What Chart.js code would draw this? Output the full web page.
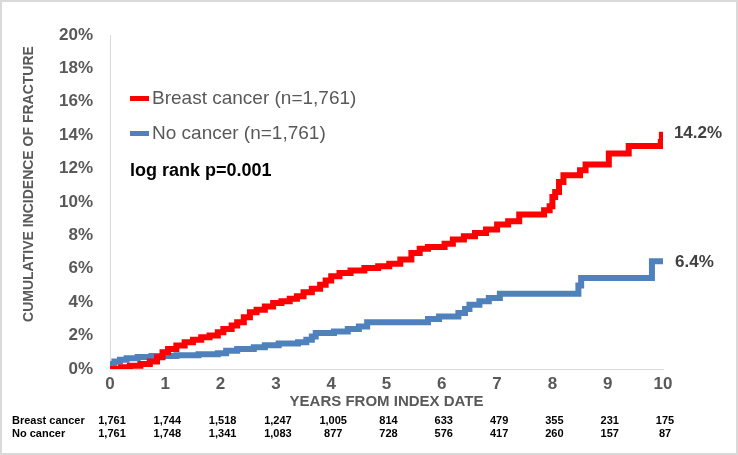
<!DOCTYPE html>
<html>
<head>
<meta charset="utf-8">
<script src="https://cdn.jsdelivr.net/npm/chart.js@4"></script>
<style>
  html, body { margin: 0; padding: 0; background: #fff; }
  #wrap { width: 738px; height: 455px; position: relative; }
</style>
</head>
<body>
<div id="wrap"><canvas id="kmChart"></canvas></div>
<script>
// Kurva kumulatif fraktur (dalam %)
const breastYears = [0, 0.2, 0.36, 0.55, 0.72, 0.85, 0.95, 1.05, 1.2, 1.35, 1.5, 1.65, 1.8, 1.95, 2.05, 2.2, 2.3, 2.42, 2.53, 2.65, 2.8, 2.95, 3.1, 3.25, 3.38, 3.5, 3.65, 3.8, 3.9, 4.0, 4.15, 4.35, 4.6, 4.85, 5.05, 5.25, 5.45, 5.6, 5.75, 6.05, 6.2, 6.4, 6.6, 6.8, 7.0, 7.2, 7.4, 7.85, 7.95, 8.0, 8.05, 8.12, 8.2, 8.5, 8.6, 9.02, 9.38, 9.96, 9.98];
const breastRisk = [0, 0.1, 0.2, 0.3, 0.45, 0.7, 1.0, 1.2, 1.4, 1.6, 1.75, 1.9, 2.0, 2.2, 2.4, 2.6, 2.8, 3.1, 3.4, 3.55, 3.75, 3.95, 4.05, 4.2, 4.35, 4.6, 4.8, 5.05, 5.3, 5.55, 5.75, 5.9, 6.05, 6.15, 6.3, 6.55, 6.95, 7.2, 7.3, 7.5, 7.75, 7.95, 8.15, 8.35, 8.65, 8.85, 9.25, 9.5, 9.75, 10.3, 10.6, 11.2, 11.6, 11.9, 12.25, 12.9, 13.35, 13.6, 14.2];

const noYears = [0, 0.03, 0.08, 0.18, 0.3, 0.5, 0.75, 1.2, 1.6, 1.95, 2.1, 2.3, 2.6, 2.8, 3.05, 3.4, 3.55, 3.65, 3.72, 4.05, 4.3, 4.5, 4.65, 5.75, 5.95, 6.3, 6.42, 6.5, 6.68, 6.85, 7.05, 8.47, 8.52, 9.8, 10.0];
const noRisk = [0.1, 0.3, 0.45, 0.55, 0.65, 0.72, 0.78, 0.83, 0.88, 0.95, 1.1, 1.2, 1.3, 1.42, 1.53, 1.6, 1.75, 1.95, 2.15, 2.25, 2.4, 2.55, 2.8, 3.0, 3.15, 3.35, 3.6, 3.85, 4.05, 4.25, 4.5, 5.0, 5.45, 6.45, 6.45];

const seriesLabels = ['Breast cancer (n=1,761)', 'No cancer (n=1,761)'];
const endLabels = ['14.2%', '6.4%'];
const riskRowNames = ['Breast cancer', 'No cancer'];
const atRiskBreast = ['1,761', '1,744', '1,518', '1,247', '1,005', '814', '633', '479', '355', '231', '175'];
const atRiskNone = ['1,761', '1,748', '1,341', '1,083', '877', '728', '576', '417', '260', '157', '87'];
const pValueText = 'log rank p=0.001';
const yTitle = 'CUMULATIVE INCIDENCE OF FRACTURE';

const FONT = "'Liberation Sans', Arial, sans-serif";
const GREY = '#595959';

const toPoints = (xs, ys) => xs.map((x, i) => ({ x: x, y: ys[i] }));

// Judul sumbu Y, legenda, label ujung kurva, tabel jumlah berisiko, bingkai
const extras = {
    id: 'extras',
    afterDatasetsDraw(chart) {
        const ctx = chart.ctx;
        const xs = chart.scales.x;
        const ys = chart.scales.y;
        ctx.save();

        // judul sumbu Y (sedikit di atas tengah, seperti aslinya)
        ctx.save();
        ctx.translate(29, 184);
        ctx.rotate(-Math.PI / 2);
        ctx.fillStyle = GREY;
        ctx.font = 'bold 14px ' + FONT;
        ctx.textAlign = 'center';
        ctx.textBaseline = 'middle';
        ctx.fillText(yTitle, 0, 0);
        ctx.restore();

        // legenda di dalam area grafik
        const legendY = [98, 133];
        chart.data.datasets.forEach((ds, i) => {
            ctx.fillStyle = ds.borderColor;
            ctx.fillRect(130, legendY[i] - 2, 19, 5);
            ctx.fillStyle = GREY;
            ctx.font = '19px ' + FONT;
            ctx.textAlign = 'left';
            ctx.textBaseline = 'middle';
            ctx.fillText(ds.label, 152, legendY[i] + 1);
        });
        ctx.fillStyle = '#000';
        ctx.font = 'bold 18px ' + FONT;
        ctx.fillText(pValueText, 130, 171);

        // label nilai akhir
        ctx.fillStyle = '#404040';
        ctx.font = 'bold 17px ' + FONT;
        chart.data.datasets.forEach((ds, i) => {
            const last = ds.data[ds.data.length - 1];
            ctx.fillText(endLabels[i], xs.getPixelForValue(last.x) + 12, ys.getPixelForValue(last.y) + 1);
        });

        // tabel jumlah berisiko
        ctx.fillStyle = '#000';
        ctx.font = 'bold 11px ' + FONT;
        const rows = [atRiskBreast, atRiskNone];
        const rowY = [421, 434];
        rows.forEach((row, r) => {
            ctx.textAlign = 'left';
            ctx.fillText(riskRowNames[r], 12, rowY[r]);
            ctx.textAlign = 'center';
            row.forEach((v, i) => ctx.fillText(v, xs.getPixelForValue(i) + 2, rowY[r]));
        });

        // bingkai luar
        ctx.strokeStyle = '#d9d9d9';
        ctx.lineWidth = 2;
        ctx.strokeRect(1, 1, chart.width - 2, chart.height - 2);
        ctx.restore();
    }
};

document.addEventListener('DOMContentLoaded', function () {
    const el = document.getElementById('kmChart');
    new Chart(el, {
        type: 'line',
        data: {
            datasets: [
                {
                    label: seriesLabels[0],
                    data: toPoints(breastYears, breastRisk),
                    borderColor: '#ff0000',
                    backgroundColor: '#ff0000',
                    borderWidth: 6,
                    stepped: true,
                    pointRadius: 0
                },
                {
                    label: seriesLabels[1],
                    data: toPoints(noYears, noRisk),
                    borderColor: '#4f81bd',
                    backgroundColor: '#4f81bd',
                    borderWidth: 6,
                    stepped: true,
                    pointRadius: 0
                }
            ]
        },
        options: {
            responsive: true,
            maintainAspectRatio: false,
            animation: false,
            layout: { padding: { left: 0, right: 75, top: 35, bottom: 44 } },
            plugins: {
                legend: { display: false },
                tooltip: { enabled: false }
            },
            scales: {
                x: {
                    type: 'linear',
                    min: 0,
                    max: 10,
                    grid: { display: false, drawTicks: false },
                    border: { display: true, color: '#d9d9d9', width: 1 },
                    ticks: {
                        stepSize: 1,
                        padding: 5,
                        color: GREY,
                        font: { family: FONT, size: 17, weight: 'bold' }
                    },
                    title: {
                        display: true,
                        text: 'YEARS FROM INDEX DATE',
                        color: GREY,
                        padding: { top: 0, bottom: 0 },
                        font: { family: FONT, size: 15, weight: 'bold' }
                    },
                    afterFit: (scale) => { scale.height = 42; }
                },
                y: {
                    min: 0,
                    max: 20,
                    grid: { display: false, drawTicks: false },
                    border: { display: true, color: '#d9d9d9', width: 1 },
                    ticks: {
                        stepSize: 2,
                        padding: 17,
                        color: GREY,
                        font: { family: FONT, size: 17, weight: 'bold' },
                        callback: (v) => v + '%'
                    },
                    afterFit: (scale) => { scale.width = 110; }
                }
            }
        },
        plugins: [extras]
    });
});
</script>
</body>
</html>
